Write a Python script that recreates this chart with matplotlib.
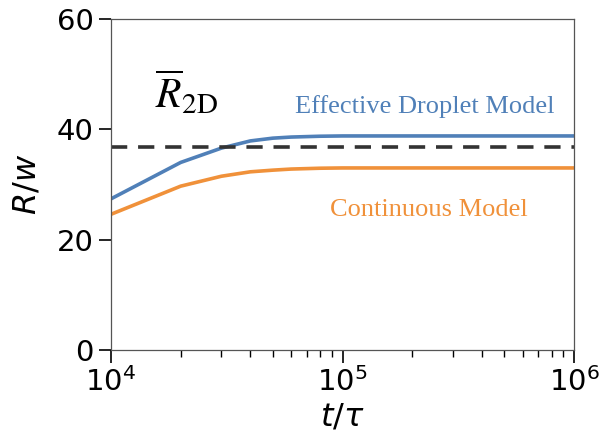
import matplotlib

matplotlib.use("Agg")
import matplotlib.pyplot as plt

# time points (t/tau) and radius curves (R/w)
t = [1e4, 2e4, 3e4, 4e4, 5e4, 6e4, 8e4, 1e5, 2e5, 5e5, 1e6]
r_droplet = [27.4, 34.0, 36.6, 37.9, 38.4, 38.6, 38.75, 38.8, 38.8, 38.8, 38.8]
r_continuous = [24.6, 29.7, 31.5, 32.3, 32.6, 32.8, 32.95, 33.0, 33.0, 33.0, 33.0]
r_2d = 36.8

blue = "#5080b8"
orange = "#f0913a"

plt.rcParams["mathtext.fontset"] = "stix"

fig = plt.figure(figsize=(6.01, 4.34), dpi=100)
ax = fig.add_axes([111 / 601, 1 - 350 / 434, 463 / 601, 331 / 434])

ax.semilogx(t, r_droplet, color=blue, lw=2.6)
ax.semilogx(t, r_continuous, color=orange, lw=2.6)
ax.axhline(r_2d, color="#333333", lw=2.6, ls=(0, (4.5, 3)))

ax.set_xlim(1e4, 1e6)
ax.set_ylim(0, 60)
ax.set_yticks([0, 20, 40, 60])
ax.tick_params(axis="both", which="major", labelsize=21, length=9, width=1.2)
ax.tick_params(axis="x", which="minor", length=5, width=1.0)
for s in ax.spines.values():
    s.set_color("#555555")
    s.set_linewidth(0.9)

# axis labels in DejaVu math italic, like the reference
lab = dict(fontsize=23, math_fontfamily="dejavusans")
ax.set_xlabel(r"$t/\tau$", labelpad=3, **lab)
ax.set_ylabel(r"$R/w$", labelpad=10, **lab)

serif = ["Liberation Serif", "DejaVu Serif"]
fig.text(295 / 601, 1 - 113 / 434, "Effective Droplet Model", color=blue,
         fontsize=19, family=serif)
fig.text(330 / 601, 1 - 216 / 434, "Continuous Model", color=orange,
         fontsize=19, family=serif)
fig.text(155 / 601, 1 - 108 / 434, r"$\overline{R}_{\mathrm{2D}}$", color="black",
         fontsize=30)

fig.savefig("out.png", facecolor="white")
